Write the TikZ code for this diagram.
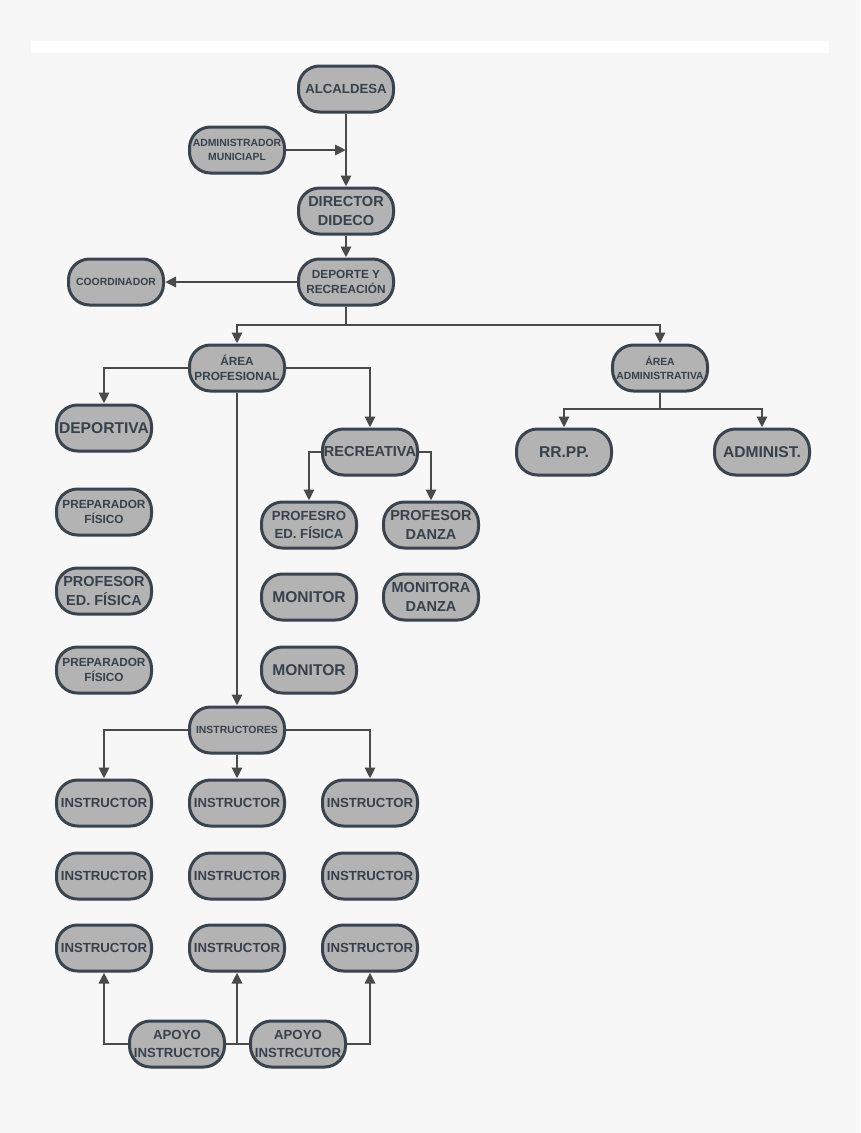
\documentclass[tikz,border=0pt]{standalone}
\usepackage{fontspec}
\setsansfont{Liberation Sans}
\usepackage{tikz}
\usetikzlibrary{arrows.meta,positioning,shadows}
\definecolor{boxfill}{HTML}{B3B3B3}
\definecolor{boxline}{HTML}{3A444E}
\definecolor{boxtext}{HTML}{36414C}
\definecolor{linecol}{HTML}{4A4A4A}
\definecolor{bgcol}{HTML}{F7F7F7}

\begin{document}
\begin{tikzpicture}[x=1pt,y=-1pt,
box/.style={rectangle, rounded corners=21pt, draw=boxline, line width=3pt, fill=boxfill,
  text=boxtext, minimum width=95pt, minimum height=46pt, inner sep=0pt, align=center,
  drop shadow={shadow xshift=0pt, shadow yshift=-1.5pt, opacity=.12}},
fa/.style={font=\sffamily\bfseries\fontsize{10.4}{14}\selectfont},
fb/.style={font=\sffamily\bfseries\fontsize{11.8}{15.5}\selectfont},
fc/.style={font=\sffamily\bfseries\fontsize{13.2}{17.5}\selectfont},
fd/.style={font=\sffamily\bfseries\fontsize{14.5}{19.3}\selectfont},
fe/.style={font=\sffamily\bfseries\fontsize{15.6}{20}\selectfont},
conn/.style={draw=linecol, line width=2.8pt},
arr/.style={conn, -{Triangle[length=11pt,width=10pt]}}
]
% background
\fill[bgcol] (0,0) rectangle (860,1133);
\fill[white] (31,41) rectangle (829,53);

% top
\node[box,fc] (alcaldesa) at (346,89) {ALCALDESA};
\node[box,fa] (admin) at (237,150) {ADMINISTRADOR\\MUNICIAPL};
\node[box,fd] (director) at (346,211) {DIRECTOR\\DIDECO};
\node[box,fb] (deporte) at (346,282) {DEPORTE Y\\RECREACIÓN};
\node[box,fa] (coord) at (116,282) {COORDINADOR};
\node[box,fb] (areaprof) at (237,368) {ÁREA\\PROFESIONAL};
\node[box,fa] (areaadm) at (660,368) {ÁREA\\ADMINISTRATIVA};
\node[box,fe] (rrpp) at (564,452) {RR.PP.};
\node[box,fe] (adminst) at (762,452) {ADMINIST.};

% area profesional
\node[box,fe] (deportiva) at (104,428) {DEPORTIVA};
\node[box,fb] (prep1) at (104,512) {PREPARADOR\\FÍSICO};
\node[box,fd] (profef) at (104,591) {PROFESOR\\ED. FÍSICA};
\node[box,fb] (prep2) at (104,670) {PREPARADOR\\FÍSICO};
\node[box,fd] (recreativa) at (370,452) {RECREATIVA};
\node[box,fc] (profesro) at (309,525) {PROFESRO\\ED. FÍSICA};
\node[box,fd] (profdanza) at (431,525) {PROFESOR\\DANZA};
\node[box,fe] (monitor1) at (309,597) {MONITOR};
\node[box,fd] (monitora) at (431,597) {MONITORA\\DANZA};
\node[box,fe] (monitor2) at (309,670) {MONITOR};

% instructores
\node[box,fa] (instructores) at (237,730) {INSTRUCTORES};
\foreach \c/\px in {1/104,2/237,3/370}
  \foreach \r/\py in {1/803,2/876,3/948}
    \node[box,fc] (i\c\r) at (\px,\py) {INSTRUCTOR};
\node[box,fc] (apoyo1) at (177,1044) {APOYO\\INSTRUCTOR};
\node[box,fc] (apoyo2) at (298,1044) {APOYO\\INSTRCUTOR};

% connectors
\coordinate (j1) at (346,325);
\coordinate (j2) at (660,409);
\coordinate (j3) at (237,1044);
\draw[arr] (alcaldesa) -- (director);
\draw[arr] (admin) -- (admin -| alcaldesa);
\draw[arr] (director) -- (deporte);
\draw[arr] (deporte) -- (coord);
\draw[conn] (deporte) -- (j1);
\draw[arr] (j1) -| (areaprof);
\draw[arr] (j1) -| (areaadm);
\draw[conn] (areaadm) -- (j2);
\draw[arr] (j2) -| (rrpp);
\draw[arr] (j2) -| (adminst);
\draw[arr] (areaprof.west) -| (deportiva);
\draw[arr] (areaprof.east) -| (recreativa);
\draw[arr] (areaprof) -- (instructores);
\draw[arr] (recreativa.west) -| (profesro);
\draw[arr] (recreativa.east) -| (profdanza);
\draw[arr] (instructores.west) -| (i11);
\draw[arr] (instructores) -- (i21);
\draw[arr] (instructores.east) -| (i31);
\draw[arr] (apoyo1.west) -| (i13);
\draw[conn] (apoyo1) -- (apoyo2);
\draw[arr] (j3) -- (i23);
\draw[arr] (apoyo2.east) -| (i33);
\end{tikzpicture}
\end{document}
